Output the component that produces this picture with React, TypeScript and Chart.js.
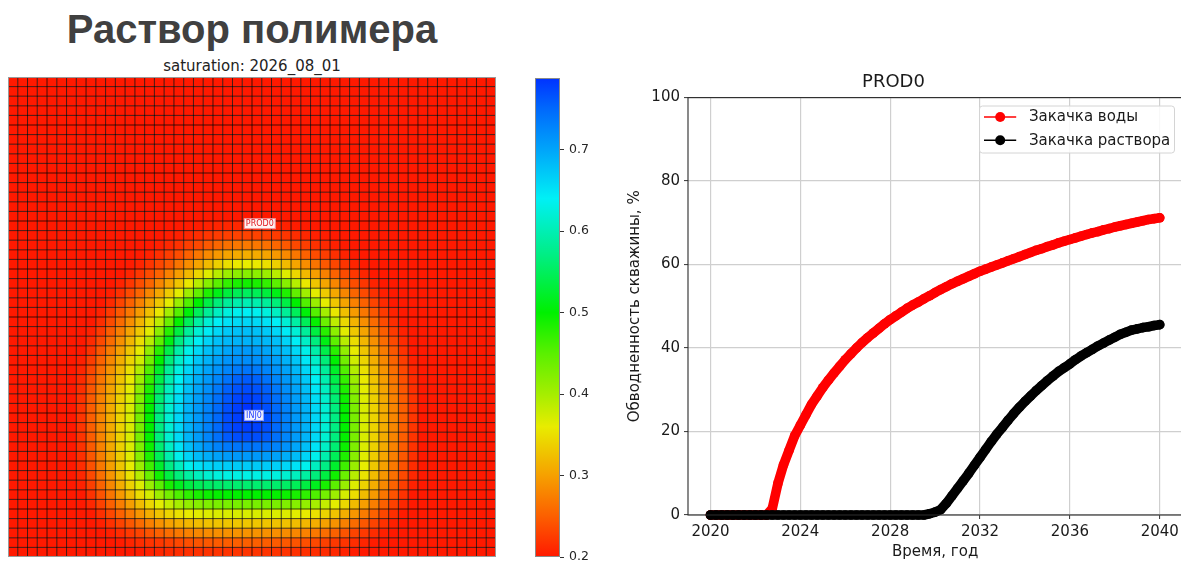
import React, { useEffect, useRef } from "react";
import { Chart, registerables } from "chart.js";

Chart.register(...registerables);
Chart.defaults.font.family = "'DejaVu Sans', sans-serif";

// ---------------- Heatmap (saturation field) data ----------------
const GRID_COLS = 50;
const GRID_ROWS = 50;
const INJ_COL = 24;
const INJ_ROW = 35;
// saturation read along the three directions from the injector (index = distance in cells)
const SIDE_PROFILE = [0.79, 0.78, 0.77, 0.75, 0.73, 0.71, 0.69, 0.66, 0.62, 0.57, 0.5, 0.43, 0.37, 0.34, 0.31, 0.28, 0.25, 0.22, 0.2];
const UP_PROFILE = [0.79, 0.79, 0.78, 0.77, 0.76, 0.74, 0.72, 0.71, 0.69, 0.68, 0.66, 0.64, 0.6, 0.55, 0.49, 0.42, 0.36, 0.31, 0.27, 0.23, 0.21, 0.2];
const DOWN_PROFILE = [0.79, 0.78, 0.77, 0.74, 0.71, 0.67, 0.63, 0.56, 0.5, 0.43, 0.37, 0.33, 0.29, 0.25, 0.22, 0.21, 0.2];
// distance (cells) of the yellow front in each direction and the front shape exponent
const FRONT_SIDE = 12;
const FRONT_UP = 16;
const FRONT_DOWN = 10;
const SHAPE_UP = 2;
const SHAPE_DOWN = 3.5;

const SAT_MIN = 0.2;
const SAT_MAX = 0.788;
const COLORBAR_TICKS = [0.2, 0.3, 0.4, 0.5, 0.6, 0.7];
const CMAP_VALUES = [0.2, 0.25, 0.3, 0.36, 0.4, 0.45, 0.5, 0.57, 0.64, 0.7, 0.75, 0.788];
const CMAP_COLORS: number[][] = [
  [255, 25, 0], [252, 95, 0], [246, 160, 0], [232, 236, 0], [165, 238, 0], [90, 240, 0],
  [0, 240, 0], [0, 238, 130], [0, 240, 245], [0, 165, 250], [0, 105, 252], [0, 50, 255],
];
const WELL_NAMES = ["PROD0", "INJ0"];
const WELL_COLS = [25.8, 25.2];
const WELL_ROWS = [15.27, 35.25];
const WELL_COLORS = ["#e0141c", "#1f3cff"];

// ---------------- Line chart data ----------------
const YEARS = [
  2020, 2020.25, 2020.5, 2020.75, 2021, 2021.25, 2021.5, 2021.75, 2022, 2022.25, 2022.5, 2022.75,
  2023, 2023.25, 2023.5, 2023.75, 2024, 2024.25, 2024.5, 2024.75, 2025, 2025.25, 2025.5, 2025.75,
  2026, 2026.25, 2026.5, 2026.75, 2027, 2027.25, 2027.5, 2027.75, 2028, 2028.25, 2028.5, 2028.75,
  2029, 2029.25, 2029.5, 2029.75, 2030, 2030.25, 2030.5, 2030.75, 2031, 2031.25, 2031.5, 2031.75,
  2032, 2032.25, 2032.5, 2032.75, 2033, 2033.25, 2033.5, 2033.75, 2034, 2034.25, 2034.5, 2034.75,
  2035, 2035.25, 2035.5, 2035.75, 2036, 2036.25, 2036.5, 2036.75, 2037, 2037.25, 2037.5, 2037.75,
  2038, 2038.25, 2038.5, 2038.75, 2039, 2039.25, 2039.5, 2039.75, 2040,
];
const WATER_CUT_WATER = [
  0, 0, 0, 0, 0, 0, 0, 0, 0, 0, 0, 1.5,
  7.5, 12, 15.5, 19, 21.5, 24, 26.5, 28.5, 30.5, 32.3, 34, 35.6,
  37.2, 38.6, 40, 41.3, 42.5, 43.6, 44.7, 45.8, 46.8, 47.7, 48.6, 49.5,
  50.3, 51, 51.8, 52.5, 53.3, 54, 54.7, 55.4, 56, 56.6, 57.2, 57.8,
  58.4, 58.9, 59.4, 59.9, 60.4, 60.9, 61.4, 61.9, 62.4, 62.9, 63.4, 63.8,
  64.3, 64.7, 65.2, 65.6, 66, 66.4, 66.8, 67.2, 67.6, 67.9, 68.3, 68.6,
  69, 69.3, 69.6, 69.9, 70.2, 70.5, 70.8, 71, 71.2,
];
const WATER_CUT_POLYMER = [
  0, 0, 0, 0, 0, 0, 0, 0, 0, 0, 0, 0,
  0, 0, 0, 0, 0, 0, 0, 0, 0, 0, 0, 0,
  0, 0, 0, 0, 0, 0, 0, 0, 0, 0, 0, 0,
  0, 0, 0, 0.3, 0.7, 1.3, 2.8, 4.6, 6.4, 8.2, 10, 11.9,
  13.8, 15.7, 17.6, 19.4, 21, 22.7, 24.3, 25.8, 27.2, 28.5, 29.8, 31,
  32.2, 33.3, 34.4, 35.3, 36.2, 37.2, 38.1, 38.9, 39.7, 40.5, 41.2, 41.9,
  42.6, 43.3, 43.8, 44.3, 44.6, 44.9, 45.1, 45.4, 45.6,
];
const SERIES_LABELS = ["Закачка воды", "Закачка раствора"];
const SERIES_COLORS = ["#ff0000", "#000000"];
const X_TICKS = [2020, 2024, 2028, 2032, 2036, 2040];
const Y_TICKS = [0, 20, 40, 60, 80, 100];

// ---------------- helpers ----------------
function profileAt(p: number[], i: number): number {
  if (i <= 0) return p[0];
  if (i >= p.length - 1) return p[p.length - 1];
  const k = Math.floor(i);
  const f = i - k;
  return p[k] * (1 - f) + p[k + 1] * f;
}

function saturationAt(c: number, r: number): number {
  const dx = c - INJ_COL;
  const dy = r - INJ_ROW;
  const d = Math.hypot(dx, dy);
  if (d === 0) return SIDE_PROFILE[0];
  const up = dy < 0;
  const ry = up ? FRONT_UP : FRONT_DOWN;
  const pw = up ? SHAPE_UP : SHAPE_DOWN;
  const a = Math.pow(Math.abs(dx) / FRONT_SIDE, pw);
  const b = Math.pow(Math.abs(dy) / ry, pw);
  const rho = Math.pow(a + b, 1 / pw);
  const w = b / (a + b);
  const excess = d - d / rho;
  const idx = (R: number) => (rho <= 1 ? rho * R : R + excess);
  const vert = up ? UP_PROFILE : DOWN_PROFILE;
  return (1 - w) * profileAt(SIDE_PROFILE, idx(FRONT_SIDE)) + w * profileAt(vert, idx(ry));
}

function colorFor(v: number): string {
  const n = CMAP_VALUES.length;
  if (v <= CMAP_VALUES[0]) return `rgb(${CMAP_COLORS[0].join(",")})`;
  if (v >= CMAP_VALUES[n - 1]) return `rgb(${CMAP_COLORS[n - 1].join(",")})`;
  let k = 0;
  while (k < n - 2 && v > CMAP_VALUES[k + 1]) k++;
  const f = (v - CMAP_VALUES[k]) / (CMAP_VALUES[k + 1] - CMAP_VALUES[k]);
  const c = CMAP_COLORS[k].map((x, i) => Math.round(x + (CMAP_COLORS[k + 1][i] - x) * f));
  return `rgb(${c.join(",")})`;
}

const CELLS: { x: number; y: number; v: number }[] = [];
for (let r = 0; r < GRID_ROWS; r++) {
  for (let c = 0; c < GRID_COLS; c++) {
    CELLS.push({ x: c, y: r, v: saturationAt(c, r) });
  }
}

// ---------------- plugins ----------------
const heatmapPlugin = {
  id: "heatCells",
  beforeDatasetsDraw(chart: any) {
    const { ctx, chartArea } = chart;
    const xs = chart.scales.x;
    const ys = chart.scales.y;
    const data = chart.data.datasets[0].data as { x: number; y: number; v: number }[];
    ctx.save();
    for (const d of data) {
      const x0 = xs.getPixelForValue(d.x);
      const x1 = xs.getPixelForValue(d.x + 1);
      const y0 = ys.getPixelForValue(d.y);
      const y1 = ys.getPixelForValue(d.y + 1);
      ctx.fillStyle = colorFor(d.v);
      ctx.fillRect(Math.min(x0, x1), Math.min(y0, y1), Math.abs(x1 - x0), Math.abs(y1 - y0));
    }
    ctx.strokeStyle = "rgba(0,0,0,0.72)";
    ctx.lineWidth = 1;
    ctx.beginPath();
    for (let c = 1; c < GRID_COLS; c++) {
      const x = xs.getPixelForValue(c);
      ctx.moveTo(x, chartArea.top);
      ctx.lineTo(x, chartArea.bottom);
    }
    for (let r = 1; r < GRID_ROWS; r++) {
      const y = ys.getPixelForValue(r);
      ctx.moveTo(chartArea.left, y);
      ctx.lineTo(chartArea.right, y);
    }
    ctx.stroke();
    ctx.strokeStyle = "#9a9a9a";
    ctx.lineWidth = 1;
    ctx.strokeRect(chartArea.left + 0.5, chartArea.top + 0.5, chartArea.right - chartArea.left - 1, chartArea.bottom - chartArea.top - 1);
    // well labels
    ctx.font = "8px 'DejaVu Sans'";
    ctx.textAlign = "center";
    ctx.textBaseline = "middle";
    for (let i = 0; i < WELL_NAMES.length; i++) {
      const px = xs.getPixelForValue(WELL_COLS[i]);
      const py = ys.getPixelForValue(WELL_ROWS[i]);
      const tw = ctx.measureText(WELL_NAMES[i]).width;
      const bw = tw + 4;
      const bh = 11;
      ctx.fillStyle = "rgba(255,255,255,0.95)";
      ctx.fillRect(px - bw / 2, py - bh / 2, bw, bh);
      ctx.strokeStyle = WELL_COLORS[i];
      ctx.globalAlpha = 0.45;
      ctx.strokeRect(px - bw / 2 + 0.5, py - bh / 2 + 0.5, bw - 1, bh - 1);
      ctx.globalAlpha = 1;
      ctx.fillStyle = WELL_COLORS[i];
      ctx.fillText(WELL_NAMES[i], px, py + 0.5);
    }
    ctx.restore();
  },
};

const colorbarFrame = {
  id: "cbFrame",
  afterDraw(chart: any) {
    const { ctx, chartArea } = chart;
    ctx.save();
    ctx.strokeStyle = "#8a8a8a";
    ctx.lineWidth = 1;
    ctx.strokeRect(chartArea.left + 0.5, chartArea.top + 0.5, chartArea.right - chartArea.left - 1, chartArea.bottom - chartArea.top - 1);
    ctx.restore();
  },
};

const axesFrame = {
  id: "axesFrame",
  afterDraw(chart: any) {
    const { ctx, chartArea } = chart;
    ctx.save();
    ctx.strokeStyle = "#2a2a2a";
    ctx.lineWidth = 1.1;
    ctx.strokeRect(chartArea.left, chartArea.top, chartArea.right - chartArea.left - 0.5, chartArea.bottom - chartArea.top);
    ctx.restore();
  },
};

const mplLegend = {
  id: "mplLegend",
  afterDraw(chart: any) {
    const { ctx, chartArea } = chart;
    const w = 195;
    const h = 47;
    const x0 = chartArea.right - w - 7.7;
    const y0 = chartArea.top + 8.4;
    ctx.save();
    ctx.beginPath();
    const rad = 3;
    ctx.moveTo(x0 + rad, y0);
    ctx.arcTo(x0 + w, y0, x0 + w, y0 + h, rad);
    ctx.arcTo(x0 + w, y0 + h, x0, y0 + h, rad);
    ctx.arcTo(x0, y0 + h, x0, y0, rad);
    ctx.arcTo(x0, y0, x0 + w, y0, rad);
    ctx.closePath();
    ctx.fillStyle = "rgba(255,255,255,0.85)";
    ctx.fill();
    ctx.strokeStyle = "#d4d4d4";
    ctx.lineWidth = 1;
    ctx.stroke();
    const ds = chart.data.datasets;
    ds.forEach((d: any, i: number) => {
      const y = y0 + 11 + i * 23.3;
      ctx.strokeStyle = d.borderColor;
      ctx.lineWidth = 1.6;
      ctx.beginPath();
      ctx.moveTo(x0 + 4.5, y);
      ctx.lineTo(x0 + 36.7, y);
      ctx.stroke();
      ctx.fillStyle = d.borderColor;
      ctx.beginPath();
      ctx.arc(x0 + 20.7, y, 5, 0, Math.PI * 2);
      ctx.fill();
      ctx.fillStyle = "#1a1a1a";
      ctx.font = "15px 'DejaVu Sans'";
      ctx.textAlign = "left";
      ctx.textBaseline = "middle";
      ctx.fillText(d.label, x0 + 49.4, y + 0.5);
    });
    ctx.restore();
  },
};

// ---------------- components ----------------
function HeatmapChart() {
  const ref = useRef<HTMLCanvasElement>(null);
  useEffect(() => {
    const chart = new Chart(ref.current!, {
      type: "scatter",
      data: { datasets: [{ data: CELLS as any, pointRadius: 0, pointHitRadius: 0 }] },
      options: {
        animation: false,
        responsive: false,
        events: [],
        layout: { padding: 0 },
        scales: {
          x: { type: "linear", min: 0, max: GRID_COLS, display: false },
          y: { type: "linear", min: 0, max: GRID_ROWS, reverse: true, display: false },
        },
        plugins: { legend: { display: false }, tooltip: { enabled: false } },
      },
      plugins: [heatmapPlugin],
    });
    return () => chart.destroy();
  }, []);
  return <canvas ref={ref} width={488} height={480} style={{ position: "absolute", left: 8, top: 77, width: 488, height: 480 }} />;
}

function ColorbarChart() {
  const ref = useRef<HTMLCanvasElement>(null);
  useEffect(() => {
    const chart = new Chart(ref.current!, {
      type: "bar",
      data: {
        labels: [""],
        datasets: [
          {
            data: [[SAT_MIN, SAT_MAX]] as any,
            barPercentage: 1,
            categoryPercentage: 1,
            borderWidth: 0,
            backgroundColor: (c: any) => {
              const area = c.chart.chartArea;
              if (!area) return "#fff";
              const g = c.chart.ctx.createLinearGradient(0, area.bottom, 0, area.top);
              CMAP_VALUES.forEach((v, i) => {
                g.addColorStop((v - SAT_MIN) / (SAT_MAX - SAT_MIN), `rgb(${CMAP_COLORS[i].join(",")})`);
              });
              return g;
            },
          },
        ],
      },
      options: {
        animation: false,
        responsive: false,
        events: [],
        layout: { padding: { top: 7, bottom: 7, left: 0, right: 0 } },
        scales: {
          x: { display: false },
          y: {
            position: "right",
            min: SAT_MIN,
            max: SAT_MAX,
            afterBuildTicks: (s: any) => {
              s.ticks = COLORBAR_TICKS.map((v) => ({ value: v }));
            },
            afterFit: (s: any) => {
              s.width = 45;
              s.paddingTop = 0;
              s.paddingBottom = 0;
            },
            ticks: { font: { size: 12.5 }, color: "#262626", padding: 5, callback: (v: any) => Number(v).toFixed(1) },
            grid: { drawOnChartArea: false, tickLength: 4, tickColor: "#333", tickWidth: 1 },
            border: { display: false },
          },
        },
        plugins: { legend: { display: false }, tooltip: { enabled: false } },
      },
      plugins: [colorbarFrame],
    });
    return () => chart.destroy();
  }, []);
  return <canvas ref={ref} width={70} height={493} style={{ position: "absolute", left: 535, top: 71, width: 70, height: 493 }} />;
}

function LineChart() {
  const ref = useRef<HTMLCanvasElement>(null);
  useEffect(() => {
    const series = [WATER_CUT_WATER, WATER_CUT_POLYMER];
    const chart = new Chart(ref.current!, {
      type: "line",
      data: {
        datasets: series.map((vals, i) => ({
          label: SERIES_LABELS[i],
          data: YEARS.map((t, k) => ({ x: t, y: vals[k] })),
          borderColor: SERIES_COLORS[i],
          backgroundColor: SERIES_COLORS[i],
          pointBackgroundColor: SERIES_COLORS[i],
          borderWidth: 9.6,
          pointRadius: 4.8,
          pointBorderWidth: 0,
          borderCapStyle: "round" as const,
          borderJoinStyle: "round" as const,
          tension: 0,
          fill: false,
          clip: false as any,
          order: i === 0 ? 2 : 1,
        })),
      },
      options: {
        animation: false,
        responsive: false,
        events: [],
        layout: { padding: { left: 0, right: 0, top: 0, bottom: 0 } },
        scales: {
          x: {
            type: "linear",
            min: 2019,
            max: 2041,
            afterBuildTicks: (s: any) => {
              s.ticks = X_TICKS.map((v) => ({ value: v }));
            },
            afterFit: (s: any) => {
              s.height = 47;
              s.paddingLeft = 0;
              s.paddingRight = 0;
            },
            ticks: { font: { size: 15 }, color: "#1a1a1a", padding: 4, maxRotation: 0, callback: (v: any) => String(v) },
            grid: { color: "#cfcfcf", lineWidth: 1.2, tickColor: "#333", tickLength: 4, tickWidth: 1 },
            border: { display: false },
            title: { display: true, text: "Время, год", font: { size: 15 }, color: "#1a1a1a", padding: { top: 0, bottom: 1 } },
          },
          y: {
            type: "linear",
            min: 0,
            max: 100,
            afterBuildTicks: (s: any) => {
              s.ticks = Y_TICKS.map((v) => ({ value: v }));
            },
            afterFit: (s: any) => {
              s.width = 88;
              s.paddingTop = 0;
              s.paddingBottom = 0;
            },
            ticks: { font: { size: 15 }, color: "#1a1a1a", padding: 4, callback: (v: any) => String(v) },
            grid: { color: "#cfcfcf", lineWidth: 1.2, tickColor: "#333", tickLength: 4, tickWidth: 1 },
            border: { display: false },
            title: { display: true, text: "Обводненность скважины, %", font: { size: 15 }, color: "#1a1a1a", padding: { top: 26, bottom: 0 } },
          },
        },
        plugins: {
          legend: { display: false },
          tooltip: { enabled: false },
          title: { display: true, text: "PROD0", font: { size: 18, weight: "normal" }, color: "#1a1a1a", padding: { top: 12, bottom: 4 } },
        },
      },
      plugins: [axesFrame, mplLegend],
    });
    return () => chart.destroy();
  }, []);
  return <canvas ref={ref} width={587} height={502} style={{ position: "absolute", left: 600, top: 60, width: 587, height: 502 }} />;
}

export default function App() {
  return (
    <div style={{ position: "fixed", left: 0, top: 0, width: 1181, height: 562, background: "#ffffff", overflow: "hidden" }}>
      <div
        style={{
          position: "absolute",
          left: 8,
          top: 9,
          width: 488,
          textAlign: "center",
          font: "bold 40px 'Liberation Sans', Arial, sans-serif",
          lineHeight: "40px",
          color: "#404040",
          whiteSpace: "nowrap",
        }}
      >
        Раствор полимера
      </div>
      <div
        style={{
          position: "absolute",
          left: 8,
          top: 59,
          width: 488,
          textAlign: "center",
          font: "15px 'DejaVu Sans', sans-serif",
          lineHeight: "15px",
          color: "#222",
          whiteSpace: "nowrap",
        }}
      >
        saturation: 2026_08_01
      </div>
      <HeatmapChart />
      <ColorbarChart />
      <LineChart />
    </div>
  );
}
